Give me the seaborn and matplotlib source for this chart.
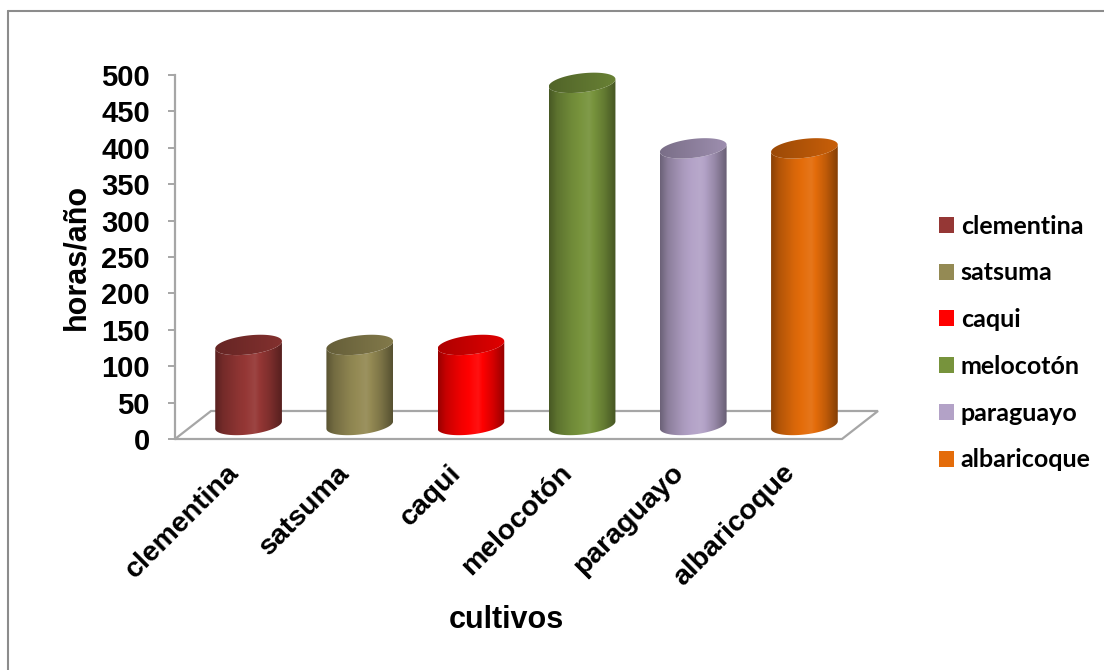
import numpy as np
import pandas as pd
import matplotlib
matplotlib.use("Agg")
import matplotlib.pyplot as plt
import matplotlib.transforms as mtransforms
import seaborn as sns
from matplotlib.path import Path
from matplotlib.patches import PathPatch, Patch, Polygon
from matplotlib.lines import Line2D

# ---- data -------------------------------------------------------------
cultivos = ["clementina", "satsuma", "caqui", "melocotón", "paraguayo", "albaricoque"]
horas = [110, 110, 110, 470, 380, 380]
colores = ["#953735", "#948A54", "#FF0000", "#77933C", "#B3A2C7", "#E46C0A"]
y_ticks = [0, 50, 100, 150, 200, 250, 300, 350, 400, 450, 500]
y_label = "horas/año"
x_label = "cultivos"

df = pd.DataFrame({"cultivo": cultivos, "horas": horas})

# ---- figure / style ---------------------------------------------------
W, H, DPI = 1104, 670, 100
sns.set_style("white")
plt.rcParams["font.family"] = ["Liberation Sans", "DejaVu Sans"]
plt.rcParams["text.color"] = "black"
plt.rcParams["axes.labelcolor"] = "black"
GRAY = "#A6A6A6"

fig = plt.figure(figsize=(W / DPI, H / DPI), dpi=DPI)

# front plane of the 3-D box, in pixels
F_LEFT, F_RIGHT, F_BASE, F_TOP = 175, 842, 439, 75
DEPTH_X, DEPTH_Y = 36, 28          # floor depth offset (px)
YMAX = 500
px_per_y = (F_BASE - F_TOP) / YMAX
ncat = len(cultivos)

ax = fig.add_axes([F_LEFT / W, (H - F_BASE) / H, (F_RIGHT - F_LEFT) / W, (F_BASE - F_TOP) / H])
ax.set_xlim(-0.5, ncat - 0.5)
ax.set_ylim(0, YMAX)
ax.set_facecolor("none")

# bars live half way into the floor depth; a little room below 0 for the round bases
YLOW = -30
bx = F_LEFT + DEPTH_X / 2
bbase = F_BASE - DEPTH_Y / 2
axb = fig.add_axes([bx / W, (H - bbase - (-YLOW) * px_per_y) / H,
                    (F_RIGHT - F_LEFT) / W, (YMAX - YLOW) * px_per_y / H])
axb.set_facecolor("none")

sns.barplot(data=df, x="cultivo", y="horas", hue="cultivo", palette=colores,
            width=0.6, saturation=1, legend=False, ax=axb)
axb.set_xlim(-0.5, ncat - 0.5)
axb.set_ylim(YLOW, YMAX)
axb.axis("off")

# ---- floor of the 3-D box --------------------------------------------
px_per_x = (F_RIGHT - F_LEFT) / ncat
ddx = DEPTH_X / px_per_x
ddy = DEPTH_Y / px_per_y
floor = Polygon([(-0.5, 0), (ncat - 0.5, 0), (ncat - 0.5 + ddx, ddy), (-0.5 + ddx, ddy)],
                closed=True, fill=False, edgecolor=GRAY, lw=1.6, clip_on=False, zorder=1)
ax.add_patch(floor)

# ---- axes styling -----------------------------------------------------
for s in ["top", "right", "bottom"]:
    ax.spines[s].set_visible(False)
ax.spines["left"].set_color(GRAY)
ax.spines["left"].set_linewidth(1.6)
ax.set_yticks(y_ticks)
ax.set_yticklabels([str(v) for v in y_ticks], fontsize=21, fontweight="bold")
ax.tick_params(axis="y", direction="out", length=5, width=1.4, color=GRAY,
               labelcolor="black", pad=13, left=True)

ax.set_xticks(range(ncat))
ax.set_xticklabels(cultivos, rotation=45, ha="right", va="top", rotation_mode="anchor",
                   fontsize=20.5, fontweight="bold")
ax.tick_params(axis="x", length=0, pad=15, labelcolor="black")
shift = mtransforms.ScaledTranslation(-5 / DPI, 0, fig.dpi_scale_trans)
for lab in ax.get_xticklabels():
    lab.set_transform(lab.get_transform() + shift)

ax.set_ylabel(y_label, fontsize=22, fontweight="bold", va="center")
ax.yaxis.set_label_coords((76 - F_LEFT) / (F_RIGHT - F_LEFT), 0.5)
ax.set_xlabel(x_label, fontsize=22, fontweight="bold", va="center")
ax.xaxis.set_label_coords((506 - F_LEFT) / (F_RIGHT - F_LEFT), -(620 - F_BASE) / (F_BASE - F_TOP))

# ---- cylinders built on the bar geometry ------------------------------
def tint(rgb, f):
    rgb = np.asarray(rgb)
    if f <= 1:
        return rgb * f
    return rgb + (1 - rgb) * (f - 1)

def gradient(rgb, keys_t, keys_f, n=256):
    t = np.linspace(0, 1, n)
    f = np.interp(t, keys_t, keys_f)
    img = np.array([tint(rgb, v) for v in f])
    return np.clip(img, 0, 1)[None, :, :]

B_PX = 9.5          # half height of the elliptic ends (px)
SHEAR = 0.11        # right side of the ellipses sits slightly higher
axb_px_x = (F_RIGHT - F_LEFT) / ncat
axb_px_y = px_per_y

bars = sorted([p for p in axb.patches], key=lambda p: p.get_x())
for p, col in zip(bars, colores):
    x0, w, h = p.get_x(), p.get_width(), p.get_height()
    p.set_visible(False)
    rgb = np.array(matplotlib.colors.to_rgb(col))
    cx = x0 + w / 2
    a_px = w * axb_px_x / 2

    def ell(t, cy):
        ex = cx + a_px * np.cos(t) / axb_px_x
        ey = cy + (B_PX * np.sin(t) + SHEAR * a_px * np.cos(t)) / axb_px_y
        return np.column_stack([ex, ey])

    front = np.linspace(0, -np.pi, 60)
    body = np.vstack([
        ell(np.array([0.0]), h),
        ell(front, 0.0),
        ell(np.linspace(-np.pi, 0, 60), h),
    ])
    body_patch = PathPatch(Path(body, closed=False), facecolor="none", edgecolor="none")
    axb.add_patch(body_patch)
    im = axb.imshow(gradient(rgb, [0, 0.12, 0.35, 0.6, 0.82, 1.0],
                             [0.6, 0.78, 0.95, 1.07, 0.84, 0.58]),
                    extent=[x0, x0 + w, -2 * B_PX / axb_px_y, h + 2 * B_PX / axb_px_y],
                    aspect="auto", interpolation="bilinear", zorder=2)
    im.set_clip_path(body_patch)

    cap = ell(np.linspace(0, 2 * np.pi, 120), h)
    cap_patch = PathPatch(Path(cap, closed=True), facecolor="none", edgecolor="none")
    axb.add_patch(cap_patch)
    imc = axb.imshow(gradient(rgb, [0, 0.5, 1.0], [0.68, 0.78, 0.88]),
                     extent=[x0, x0 + w, h - 2 * B_PX / axb_px_y, h + 2 * B_PX / axb_px_y],
                     aspect="auto", interpolation="bilinear", zorder=3)
    imc.set_clip_path(cap_patch)

axb.set_xlim(-0.5, ncat - 0.5)
axb.set_ylim(YLOW, YMAX)

# ---- legend -----------------------------------------------------------
LEG_FS = 18
handles = [Patch(facecolor=c, edgecolor="none") for c in colores]
fs_px = LEG_FS * DPI / 72
fig.legend(handles, cultivos, loc="center left", bbox_to_anchor=(939 / W, 1 - 343 / H),
           frameon=False, borderpad=0, borderaxespad=0,
           handlelength=15 / fs_px, handleheight=15 / fs_px, handletextpad=0.27,
           labelspacing=0.95, labelcolor="black",
           prop={"family": "Lato", "weight": "bold", "size": LEG_FS})

# ---- chart frame (top and left edges) ---------------------------------
fig.add_artist(Line2D([7.5 / W, 1], [1 - 10.5 / H, 1 - 10.5 / H], transform=fig.transFigure,
                      color="#8C8C8C", lw=1.5))
fig.add_artist(Line2D([7.5 / W, 7.5 / W], [0, 1 - 10.5 / H], transform=fig.transFigure,
                      color="#8C8C8C", lw=1.5))

fig.savefig("out.png", dpi=DPI, facecolor="white")
